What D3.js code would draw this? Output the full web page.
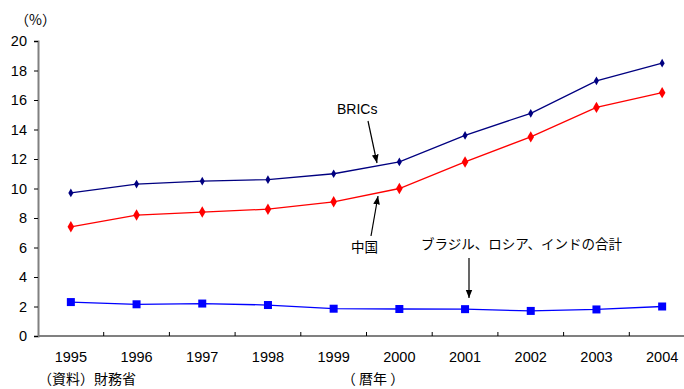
<!DOCTYPE html>
<html>
<head>
<meta charset="utf-8">
<script src="https://cdn.jsdelivr.net/npm/d3@7"></script>
<style>
body { margin: 0; background: #fff; }
svg text { font-family: "Liberation Sans", Arial, sans-serif; }
.jp { font-family: "Noto Sans CJK JP", sans-serif; }
</style>
</head>
<body>
<svg width="684" height="389"></svg>
<script>
var years = ["1995", "1996", "1997", "1998", "1999", "2000", "2001", "2002", "2003", "2004"],
    brics = [9.7, 10.3, 10.5, 10.6, 11.0, 11.8, 13.6, 15.1, 17.3, 18.5],
    china = [7.4, 8.2, 8.4, 8.6, 9.1, 10.0, 11.8, 13.5, 15.5, 16.5],
    others = [2.3, 2.15, 2.2, 2.1, 1.85, 1.83, 1.82, 1.7, 1.8, 2.0],
    yTicks = [0, 2, 4, 6, 8, 10, 12, 14, 16, 18, 20];

var svg = d3.select("svg"),
    left = 38,
    x = d3.scaleBand().domain(years).range([left, left + 657]),
    y = d3.scaleLinear().domain([0, 20]).range([336, 41]);

// y axis
var yAxis = svg.append("g")
    .attr("transform", "translate(" + left + ",0)")
    .call(d3.axisLeft(y).tickValues(yTicks).tickSize(4).tickPadding(7));
yAxis.select(".domain").attr("stroke", "#808080").attr("stroke-width", 2);
yAxis.selectAll(".tick line").attr("stroke", "#000");
yAxis.selectAll(".tick text").attr("font-size", 14.5).attr("fill", "#000");

// x axis (ticks between categories, pointing up)
svg.append("line")
    .attr("x1", left).attr("x2", 684)
    .attr("y1", y(0)).attr("y2", y(0))
    .attr("stroke", "#808080").attr("stroke-width", 2);
svg.selectAll(".xtick")
    .data(years.slice(1))
    .enter().append("line")
    .attr("x1", function(d) { return x(d); })
    .attr("x2", function(d) { return x(d); })
    .attr("y1", y(0)).attr("y2", y(0) - 4)
    .attr("stroke", "#000");
svg.selectAll(".xlab")
    .data(years)
    .enter().append("text")
    .attr("x", function(d) { return x(d) + x.bandwidth() / 2; })
    .attr("y", 362)
    .attr("text-anchor", "middle")
    .attr("font-size", 14.5)
    .text(function(d) { return d; });

function cx(d, i) { return x(years[i]) + x.bandwidth() / 2; }
var line = d3.line().x(cx).y(function(d) { return y(d); });

// series
svg.append("path").datum(brics)
    .attr("fill", "none").attr("stroke", "#000080").attr("stroke-width", 1.3).attr("d", line);
svg.append("path").datum(china)
    .attr("fill", "none").attr("stroke", "#ff0000").attr("stroke-width", 1.3).attr("d", line);
svg.append("path").datum(others)
    .attr("fill", "none").attr("stroke", "#0000ff").attr("stroke-width", 1.3).attr("d", line);

svg.selectAll(".m1").data(brics).enter().append("path")
    .attr("d", d3.symbol().type(d3.symbolDiamond).size(22))
    .attr("transform", function(d, i) { return "translate(" + cx(d, i) + "," + y(d) + ")"; })
    .attr("fill", "#000080");
svg.selectAll(".m2").data(china).enter().append("path")
    .attr("d", d3.symbol().type(d3.symbolDiamond).size(38))
    .attr("transform", function(d, i) { return "translate(" + cx(d, i) + "," + y(d) + ")"; })
    .attr("fill", "#ff0000");
svg.selectAll(".m3").data(others).enter().append("rect")
    .attr("x", function(d, i) { return cx(d, i) - 4; })
    .attr("y", function(d) { return y(d) - 4; })
    .attr("width", 8).attr("height", 8)
    .attr("fill", "#0000ff");

// annotations
svg.append("defs").append("marker")
    .attr("id", "ah").attr("viewBox", "0 0 10 10")
    .attr("refX", 10).attr("refY", 5)
    .attr("markerWidth", 7).attr("markerHeight", 7)
    .attr("orient", "auto")
    .append("path").attr("d", "M0,1L10,5L0,9z").attr("fill", "#000");

function arrow(x1, y1, x2, y2) {
    svg.append("line")
        .attr("x1", x1).attr("y1", y1).attr("x2", x2).attr("y2", y2)
        .attr("stroke", "#000").attr("stroke-width", 1.2)
        .attr("marker-end", "url(#ah)");
}
arrow(368, 121, 377, 163);
arrow(371, 236, 378, 196);
arrow(469, 258, 469, 298);

svg.append("text").attr("x", 337).attr("y", 114).attr("font-size", 14).text("BRICs");
svg.append("text").attr("class", "jp").attr("x", 351).attr("y", 252).attr("font-size", 13.5).text("中国");
svg.append("text").attr("class", "jp").attr("x", 421).attr("y", 249).attr("font-size", 13.5)
    .text("ブラジル、ロシア、インドの合計");

svg.append("text").attr("class", "jp").attr("x", 15).attr("y", 25).attr("font-size", 14).text("（%）");
svg.append("text").attr("class", "jp").attr("x", 38).attr("y", 384).attr("font-size", 14).text("（資料）財務省");
svg.append("text").attr("class", "jp").attr("x", 373).attr("y", 384).attr("text-anchor", "middle")
    .attr("font-size", 14).text("（ 暦年 ）");
</script>
</body>
</html>
